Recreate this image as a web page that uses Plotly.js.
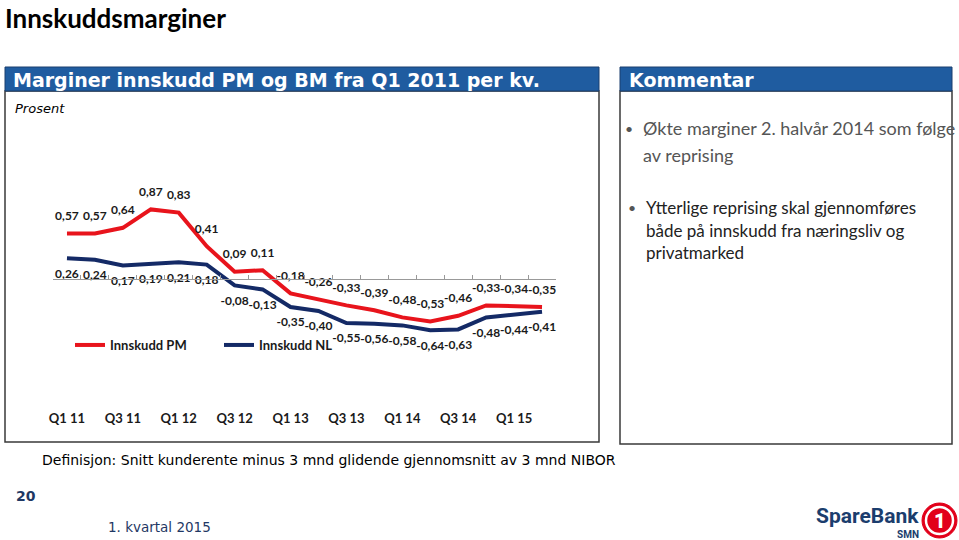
<!DOCTYPE html>
<html>
<head>
<meta charset="utf-8">
<script src="https://cdn.plot.ly/plotly-3.0.1.min.js"></script>
<style>html,body{margin:0;padding:0;background:#fff;}#chart{width:959px;height:540px;}</style>
</head>
<body>
<div id="chart"></div>
<script>
// ---- data ----
const categories = ["Q1 11","Q2 11","Q3 11","Q4 11","Q1 12","Q2 12","Q3 12","Q4 12",
  "Q1 13","Q2 13","Q3 13","Q4 13","Q1 14","Q2 14","Q3 14","Q4 14","Q1 15","Q2 15"];
const tickLabels = ["Q1 11","Q3 11","Q1 12","Q3 12","Q1 13","Q3 13","Q1 14","Q3 14","Q1 15"];
const innskuddPM = [0.57,0.57,0.64,0.87,0.83,0.41,0.09,0.11,-0.18,-0.26,-0.33,-0.39,-0.48,-0.53,-0.46,-0.33,-0.34,-0.35];
const innskuddNL = [0.26,0.24,0.17,0.19,0.21,0.18,-0.08,-0.13,-0.35,-0.40,-0.55,-0.56,-0.58,-0.64,-0.63,-0.48,-0.44,-0.41];
const seriesNames = ["Innskudd PM","Innskudd NL"];

// ---- geometry helpers (pixel -> paper) ----
const M = {l:53, r:403, t:183, b:137};
const PW = 959 - M.l - M.r, PH = 540 - M.t - M.b;
const px = x => (x - M.l) / PW;
const py = y => (540 - M.b - y) / PH;
const yRange = [-1.55, 1.2];

const calibri = "Lato, 'Open Sans', sans-serif";
const verdana = "'DejaVu Sans', Verdana, sans-serif";
const labelFont = {family:calibri, size:12, color:"#1a1a1a", weight:700};
const axisFont = {family:calibri, size:13, color:"#1a1a1a", weight:700};

const traces = [
  {x:categories, y:innskuddPM, name:seriesNames[0], type:"scatter", mode:"lines+markers+text",
   line:{color:"#E8141C", width:4}, marker:{size:15, color:"rgba(0,0,0,0)"},
   texttemplate:"%{y:.2f}", textposition:"top center",
   textfont:labelFont, cliponaxis:false, hoverinfo:"skip"},
  {x:categories, y:innskuddNL, name:seriesNames[1], type:"scatter", mode:"lines+markers+text",
   line:{color:"#142A66", width:4}, marker:{size:15, color:"rgba(0,0,0,0)"},
   texttemplate:"%{y:.2f}", textposition:"bottom center",
   textfont:labelFont, cliponaxis:false, hoverinfo:"skip"}
];

const boundaries = categories.map((c,i)=>i-0.5).concat([categories.length-0.5]);

const shapes = [
  {type:"rect", xref:"paper", yref:"paper", x0:px(5), x1:px(599), y0:py(91), y1:py(442),
   line:{color:"#3a3a3a", width:1.5}, fillcolor:"rgba(0,0,0,0)", layer:"below"},
  {type:"rect", xref:"paper", yref:"paper", x0:px(5), x1:px(599), y0:py(67), y1:py(91),
   line:{color:"#1b3f6e", width:1}, fillcolor:"#1F5CA0", layer:"below"},
  {type:"rect", xref:"paper", yref:"paper", x0:px(620), x1:px(952), y0:py(91), y1:py(444),
   line:{color:"#3a3a3a", width:1.5}, fillcolor:"rgba(0,0,0,0)", layer:"below"},
  {type:"rect", xref:"paper", yref:"paper", x0:px(620), x1:px(952), y0:py(67), y1:py(91),
   line:{color:"#1b3f6e", width:1}, fillcolor:"#1F5CA0", layer:"below"},
  // logo circle
  {type:"circle", xref:"paper", yref:"paper", x0:px(922), x1:px(957), y0:py(503), y1:py(538),
   line:{color:"#E2001A", width:1}, fillcolor:"#E2001A"},
  {type:"circle", xref:"paper", yref:"paper", x0:px(926), x1:px(953), y0:py(507), y1:py(534),
   line:{color:"#ffffff", width:2.5}, fillcolor:"rgba(0,0,0,0)"}
];

const ann = (text, x, y, font, extra) => Object.assign({text:text, xref:"paper", yref:"paper",
  x:px(x), y:py(y), xanchor:"left", yanchor:"middle", showarrow:false, font:font, borderpad:0}, extra||{});

const annotations = [
  ann("Innskuddsmarginer", 4, 1, {family:calibri, size:26, color:"#000", weight:700}, {yanchor:"top"}),
  ann("Marginer innskudd PM og BM fra Q1 2011 per kv.", 12, 80, {family:verdana, size:19, color:"#fff", weight:700}),
  ann("<i>Prosent</i>", 14, 108, {family:verdana, size:13, color:"#000"}),
  ann("Kommentar", 628, 80, {family:verdana, size:19, color:"#fff", weight:700}),
  ann("•", 624, 128, {family:calibri, size:14, color:"#555"}),
  ann("Økte marginer 2. halvår 2014 som følge", 642, 128, {family:calibri, size:18, color:"#555"}),
  ann("av reprising", 642, 155, {family:calibri, size:18, color:"#555"}),
  ann("•", 627, 207, {family:calibri, size:14, color:"#555"}),
  ann("Ytterlige reprising skal gjennomføres", 645, 207, {family:calibri, size:17, color:"#222"}),
  ann("både på innskudd fra næringsliv og", 645, 230, {family:calibri, size:17, color:"#222"}),
  ann("privatmarked", 645, 252, {family:calibri, size:17, color:"#222"}),
  ann("Definisjon: Snitt kunderente minus 3 mnd glidende gjennomsnitt av 3 mnd NIBOR", 41, 460, {family:verdana, size:14, color:"#000"}),
  ann("20", 15, 496, {family:verdana, size:14, color:"#1F3864", weight:700}),
  ann("1. kvartal 2015", 107, 527, {family:verdana, size:13.5, color:"#1F3864"}),
  ann("SpareBank", 920, 516, {family:"Roboto, sans-serif", size:21, color:"#1B3D6D", weight:700}, {xanchor:"right"}),
  ann("SMN", 920, 534, {family:"Roboto, sans-serif", size:10, color:"#1B3D6D", weight:700}, {xanchor:"right"}),
  ann("1", 939.5, 521, {family:"Roboto, sans-serif", size:20, color:"#fff", weight:900}, {xanchor:"center"})
];

const layout = {
  width:959, height:540, margin:M, paper_bgcolor:"#fff", plot_bgcolor:"rgba(0,0,0,0)",
  separators:", ", showlegend:true,
  legend:{orientation:"h", x:px(70), y:py(345), xanchor:"left", yanchor:"middle",
          entrywidth:104, font:{family:calibri, size:13, color:"#1a1a1a", weight:700},
          bgcolor:"rgba(0,0,0,0)", itemwidth:30},
  xaxis:{type:"category", categoryarray:categories, range:[-0.5, categories.length-0.5],
         tickmode:"array", tickvals:tickLabels, ticktext:tickLabels, showline:false, ticks:"",
         showgrid:false, zeroline:false, tickfont:axisFont, ticklabelstandoff:6, fixedrange:true},
  xaxis2:{overlaying:"x", anchor:"free", position:(0-yRange[0])/(yRange[1]-yRange[0]),
          range:[-0.5, categories.length-0.5], tickmode:"array", tickvals:boundaries,
          showticklabels:false, ticks:"inside", ticklen:4, tickcolor:"#999", tickwidth:1,
          showline:true, linecolor:"#999", linewidth:1, showgrid:false, zeroline:false},
  yaxis:{range:yRange, visible:false, showgrid:false, zeroline:false, fixedrange:true},
  shapes:shapes, annotations:annotations
};

// invisible trace on xaxis2 so its line and ticks are drawn
traces.push({x:categories.map((c,i)=>i), y:innskuddPM, xaxis:"x2", yaxis:"y", mode:"lines",
  line:{width:0, color:"rgba(0,0,0,0)"}, showlegend:false, hoverinfo:"skip"});

Plotly.newPlot("chart", traces, layout, {staticPlot:true, displayModeBar:false});
</script>
</body>
</html>
